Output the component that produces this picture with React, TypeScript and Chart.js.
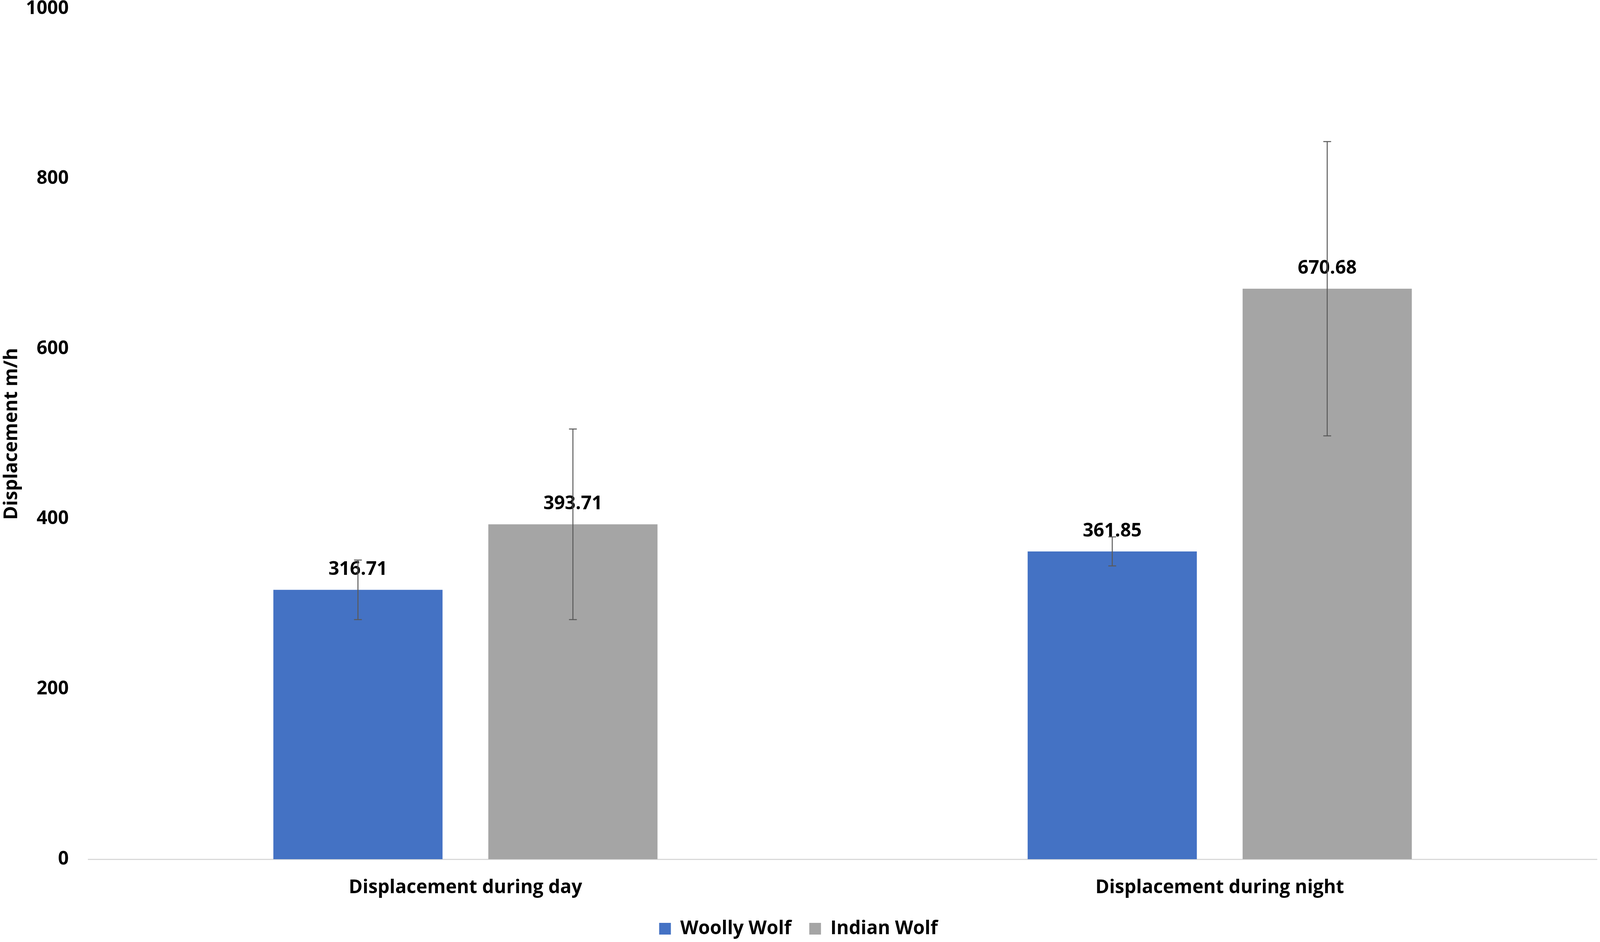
import React, { useEffect, useRef } from "react";
import { Chart, registerables } from "chart.js";

Chart.register(...registerables);

const categories = ["Displacement during day", "Displacement during night"];
const woollyWolf = [316.71, 361.85];
const indianWolf = [393.71, 670.68];
const woollyErr = [35, 17];
const indianErr = [112, 173];

const FONT = "'Open Sans', sans-serif";

const labelsAndErrors = {
  id: "labelsAndErrors",
  afterDatasetsDraw(chart: any) {
    const ctx = chart.ctx;
    const yScale = chart.scales.y;
    ctx.save();
    // value labels first, the error bars go over them
    chart.data.datasets.forEach((ds: any, di: number) => {
      const meta = chart.getDatasetMeta(di);
      meta.data.forEach((bar: any, i: number) => {
        ctx.font = `bold 48px ${FONT}`;
        ctx.fillStyle = "#000000";
        ctx.textAlign = "center";
        ctx.textBaseline = "middle";
        ctx.fillText(ds.data[i].toFixed(2), bar.x, bar.y - 52);
      });
    });
    chart.data.datasets.forEach((ds: any, di: number) => {
      const meta = chart.getDatasetMeta(di);
      meta.data.forEach((bar: any, i: number) => {
        const v = ds.data[i];
        const e = ds.errors[i];
        const top = yScale.getPixelForValue(v + e);
        const bottom = yScale.getPixelForValue(v - e);
        ctx.strokeStyle = "#595959";
        ctx.lineWidth = 2.5;
        ctx.beginPath();
        ctx.moveTo(bar.x, top);
        ctx.lineTo(bar.x, bottom);
        ctx.moveTo(bar.x - 10, top);
        ctx.lineTo(bar.x + 10, top);
        ctx.moveTo(bar.x - 10, bottom);
        ctx.lineTo(bar.x + 10, bottom);
        ctx.stroke();
      });
    });
    ctx.restore();
  },
};

const App: React.FC = () => {
  const canvasRef = useRef<HTMLCanvasElement>(null);
  const chartRef = useRef<Chart>();

  useEffect(() => {
    if (!canvasRef.current) return;
    const ctx = canvasRef.current.getContext("2d");
    if (!ctx) return;
    if (chartRef.current) chartRef.current.destroy();

    chartRef.current = new Chart(ctx, {
      type: "bar",
      data: {
        labels: categories,
        datasets: [
          {
            label: "Woolly Wolf",
            data: woollyWolf,
            backgroundColor: "#4472C4",
            errors: woollyErr,
            categoryPercentage: 0.57,
            barPercentage: 0.787,
          } as any,
          {
            label: "Indian Wolf",
            data: indianWolf,
            backgroundColor: "#A5A5A5",
            errors: indianErr,
            categoryPercentage: 0.57,
            barPercentage: 0.787,
          } as any,
        ],
      },
      options: {
        animation: false,
        responsive: true,
        maintainAspectRatio: false,
        layout: { padding: { top: 0, right: 8, bottom: 0, left: 0 } },
        plugins: {
          tooltip: { enabled: false },
          legend: {
            position: "bottom",
            labels: {
              boxWidth: 30,
              boxHeight: 30,
              padding: 46,
              color: "#000000",
              font: { family: FONT, size: 48, weight: "bold" },
            },
          },
        },
        scales: {
          x: {
            grid: { display: false, drawTicks: false },
            border: { display: true, color: "#D9D9D9", width: 3 },
            ticks: {
              color: "#000000",
              padding: 45,
              font: { family: FONT, size: 48, weight: "bold" },
            },
            afterFit: (s: any) => {
              s.height = 108;
            },
          },
          y: {
            min: 0,
            max: 1000,
            grid: { display: false, drawTicks: false },
            border: { display: false },
            ticks: {
              stepSize: 200,
              color: "#000000",
              padding: 50,
              callback: (v: any) => String(v),
              font: { family: FONT, size: 48, weight: "bold" },
            },
            title: {
              display: true,
              text: "Displacement m/h",
              color: "#000000",
              padding: { top: 2, bottom: 0 },
              font: { family: FONT, size: 48, weight: "bold" },
            },
            afterFit: (s: any) => {
              s.width = 226;
              // tick padding would otherwise push the plot top down
              s.paddingTop = 22;
              s.paddingBottom = 22;
            },
          },
        },
      },
      plugins: [labelsAndErrors],
    });

    return () => {
      if (chartRef.current) {
        chartRef.current.destroy();
        chartRef.current = undefined;
      }
    };
  }, []);

  return (
    <div
      style={{
        position: "fixed",
        left: 0,
        top: 0,
        width: "100vw",
        height: "100vh",
        background: "#ffffff",
      }}
    >
      <canvas ref={canvasRef} />
    </div>
  );
};

export default App;
